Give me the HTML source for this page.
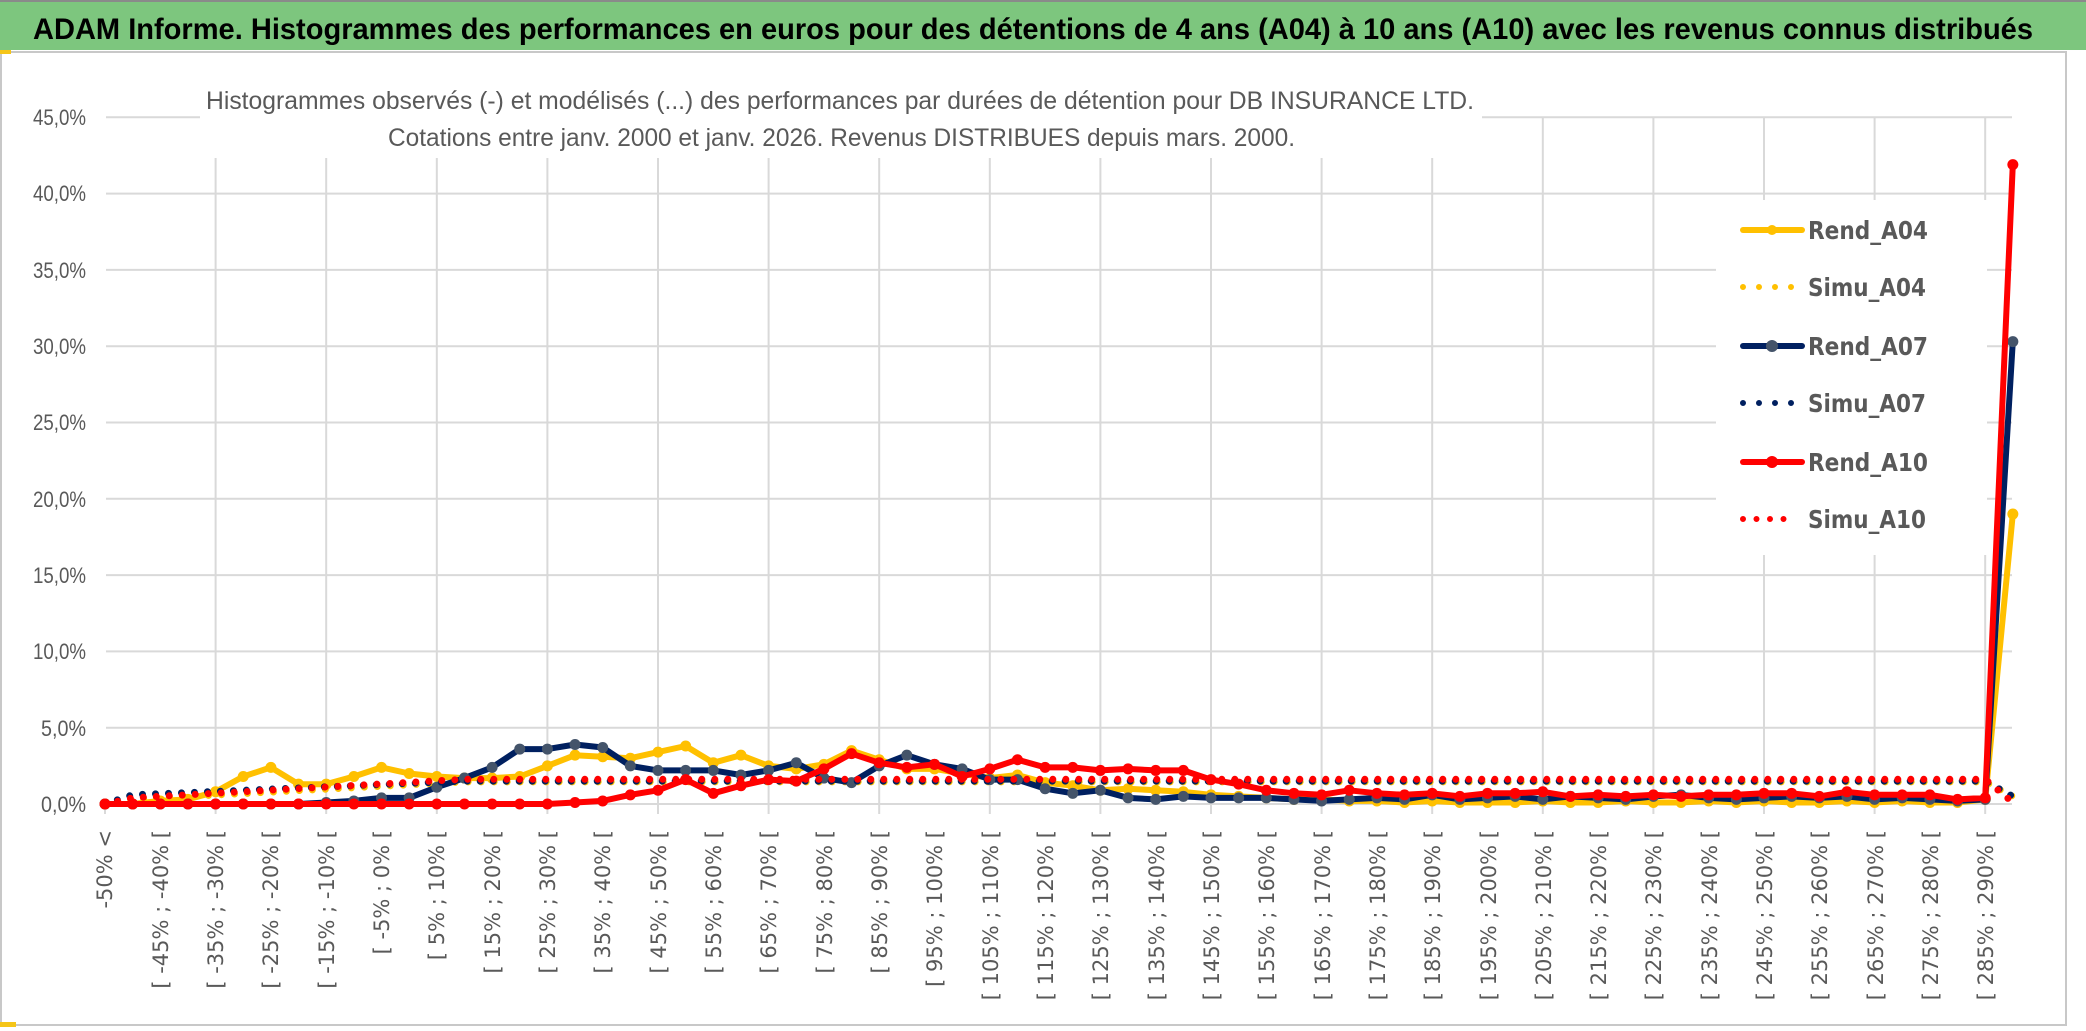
<!DOCTYPE html>
<html><head><meta charset="utf-8"><style>
html,body{margin:0;padding:0;background:#fff;}
svg{display:block;}
</style></head><body>
<svg id="s" width="2086" height="1031" viewBox="0 0 2086 1031" xmlns="http://www.w3.org/2000/svg">
<rect x="0" y="0" width="2086" height="1031" fill="#fff"/>
<rect x="0" y="0" width="2086" height="50" fill="#7DC67E"/>
<line x1="0" y1="1" x2="2086" y2="1" stroke="#8a8a8a" stroke-width="2"/>
<text x="33" y="39" font-family="Liberation Sans, sans-serif" font-weight="bold" font-size="30" fill="#000" textLength="2000" lengthAdjust="spacingAndGlyphs">ADAM Informe. Histogrammes des performances en euros pour des détentions de 4 ans (A04) à 10 ans (A10) avec les revenus connus distribués</text>
<rect x="1" y="52" width="2065" height="973" fill="none" stroke="#C8C8C8" stroke-width="2"/>
<rect x="0" y="50" width="11" height="4" fill="#F5C518"/>
<rect x="0" y="1022" width="16" height="5" fill="#F5C518"/>
<g id="grid" stroke="#D9D9D9" stroke-width="2"></g>
<rect x="200" y="72" width="1282" height="86" fill="#fff"/>
<rect x="1716" y="200" width="271" height="355" fill="#fff"/>
<text x="206" y="109" font-family="Liberation Sans, sans-serif" font-size="25" fill="#595959" textLength="1268" lengthAdjust="spacingAndGlyphs">Histogrammes observés (-) et modélisés (...) des performances par durées de détention pour DB INSURANCE LTD.</text>
<text x="388" y="146" font-family="Liberation Sans, sans-serif" font-size="25" fill="#595959" textLength="907" lengthAdjust="spacingAndGlyphs">Cotations entre janv. 2000 et janv. 2026. Revenus DISTRIBUES depuis mars. 2000.</text>
<g font-family="Liberation Sans, sans-serif" font-size="22" fill="#595959" text-anchor="end">
<text x="86" y="125" textLength="53" lengthAdjust="spacingAndGlyphs">45,0%</text>
<text x="86" y="201" textLength="53" lengthAdjust="spacingAndGlyphs">40,0%</text>
<text x="86" y="278" textLength="53" lengthAdjust="spacingAndGlyphs">35,0%</text>
<text x="86" y="354" textLength="53" lengthAdjust="spacingAndGlyphs">30,0%</text>
<text x="86" y="430" textLength="53" lengthAdjust="spacingAndGlyphs">25,0%</text>
<text x="86" y="507" textLength="53" lengthAdjust="spacingAndGlyphs">20,0%</text>
<text x="86" y="583" textLength="53" lengthAdjust="spacingAndGlyphs">15,0%</text>
<text x="86" y="659" textLength="53" lengthAdjust="spacingAndGlyphs">10,0%</text>
<text x="86" y="736" textLength="45" lengthAdjust="spacingAndGlyphs">5,0%</text>
<text x="86" y="812" textLength="45" lengthAdjust="spacingAndGlyphs">0,0%</text>
</g>
<g font-family="DejaVu Sans, sans-serif" font-size="21" fill="#595959" text-anchor="end">
<text transform="translate(112,830) rotate(-90)">-50% &lt;</text>
<text transform="translate(168,830) rotate(-90)">[ -45% ; -40% [</text>
<text transform="translate(223,830) rotate(-90)">[ -35% ; -30% [</text>
<text transform="translate(278,830) rotate(-90)">[ -25% ; -20% [</text>
<text transform="translate(334,830) rotate(-90)">[ -15% ; -10% [</text>
<text transform="translate(389,830) rotate(-90)">[ -5% ; 0% [</text>
<text transform="translate(444,830) rotate(-90)">[ 5% ; 10% [</text>
<text transform="translate(500,830) rotate(-90)">[ 15% ; 20% [</text>
<text transform="translate(555,830) rotate(-90)">[ 25% ; 30% [</text>
<text transform="translate(610,830) rotate(-90)">[ 35% ; 40% [</text>
<text transform="translate(666,830) rotate(-90)">[ 45% ; 50% [</text>
<text transform="translate(721,830) rotate(-90)">[ 55% ; 60% [</text>
<text transform="translate(776,830) rotate(-90)">[ 65% ; 70% [</text>
<text transform="translate(832,830) rotate(-90)">[ 75% ; 80% [</text>
<text transform="translate(887,830) rotate(-90)">[ 85% ; 90% [</text>
<text transform="translate(942,830) rotate(-90)">[ 95% ; 100% [</text>
<text transform="translate(998,830) rotate(-90)">[ 105% ; 110% [</text>
<text transform="translate(1053,830) rotate(-90)">[ 115% ; 120% [</text>
<text transform="translate(1108,830) rotate(-90)">[ 125% ; 130% [</text>
<text transform="translate(1164,830) rotate(-90)">[ 135% ; 140% [</text>
<text transform="translate(1219,830) rotate(-90)">[ 145% ; 150% [</text>
<text transform="translate(1274,830) rotate(-90)">[ 155% ; 160% [</text>
<text transform="translate(1330,830) rotate(-90)">[ 165% ; 170% [</text>
<text transform="translate(1385,830) rotate(-90)">[ 175% ; 180% [</text>
<text transform="translate(1440,830) rotate(-90)">[ 185% ; 190% [</text>
<text transform="translate(1496,830) rotate(-90)">[ 195% ; 200% [</text>
<text transform="translate(1551,830) rotate(-90)">[ 205% ; 210% [</text>
<text transform="translate(1606,830) rotate(-90)">[ 215% ; 220% [</text>
<text transform="translate(1661,830) rotate(-90)">[ 225% ; 230% [</text>
<text transform="translate(1717,830) rotate(-90)">[ 235% ; 240% [</text>
<text transform="translate(1772,830) rotate(-90)">[ 245% ; 250% [</text>
<text transform="translate(1827,830) rotate(-90)">[ 255% ; 260% [</text>
<text transform="translate(1883,830) rotate(-90)">[ 265% ; 270% [</text>
<text transform="translate(1938,830) rotate(-90)">[ 275% ; 280% [</text>
<text transform="translate(1993,830) rotate(-90)">[ 285% ; 290% [</text>
</g>
<g id="series"></g>
<g font-family="DejaVu Sans, sans-serif" font-weight="bold" font-size="25" fill="#595959">
<line x1="1743" y1="230" x2="1802" y2="230" stroke="#FFC000" stroke-width="6" stroke-linecap="round"/><circle cx="1772" cy="230" r="5" fill="#FFC000"/>
<text x="1808" y="239" textLength="120" lengthAdjust="spacingAndGlyphs">Rend_A04</text>
<line x1="1743" y1="287" x2="1792" y2="287" stroke="#FFC000" stroke-width="6" stroke-linecap="round" stroke-dasharray="0 16"/>
<text x="1808" y="296" textLength="118" lengthAdjust="spacingAndGlyphs">Simu_A04</text>
<line x1="1743" y1="346" x2="1802" y2="346" stroke="#002060" stroke-width="6" stroke-linecap="round"/><circle cx="1772" cy="346" r="6" fill="#44546A"/>
<text x="1808" y="355" textLength="120" lengthAdjust="spacingAndGlyphs">Rend_A07</text>
<line x1="1743" y1="403" x2="1792" y2="403" stroke="#002060" stroke-width="6" stroke-linecap="round" stroke-dasharray="0 16"/>
<text x="1808" y="412" textLength="118" lengthAdjust="spacingAndGlyphs">Simu_A07</text>
<line x1="1743" y1="462" x2="1802" y2="462" stroke="#FF0000" stroke-width="6" stroke-linecap="round"/><circle cx="1772" cy="462" r="6" fill="#FF0000"/>
<text x="1808" y="471" textLength="120" lengthAdjust="spacingAndGlyphs">Rend_A10</text>
<line x1="1743" y1="519" x2="1797" y2="519" stroke="#FF0000" stroke-width="6" stroke-linecap="round" stroke-dasharray="0 13.5"/>
<text x="1808" y="528" textLength="118" lengthAdjust="spacingAndGlyphs">Simu_A10</text>
</g>
</svg>
<script>
(function(){
var NS="http://www.w3.org/2000/svg";
var X=function(i){return 105+27.65*i;}, Y=function(v){return 804-v*15.26;};
var g=document.getElementById('grid');
function ln(p,x1,y1,x2,y2,a){var l=document.createElementNS(NS,'line');l.setAttribute('x1',x1);l.setAttribute('y1',y1);l.setAttribute('x2',x2);l.setAttribute('y2',y2);if(a)for(var k in a)l.setAttribute(k,a[k]);p.appendChild(l);return l;}
for(var k=0;k<=9;k++){var y=Y(k*5);ln(g,106,y,2012,y);}
for(var i=4;i<=68;i+=4){ln(g,X(i),Y(45),X(i),814);}
ln(g,X(0),804,X(0),814);
var A04=[0,0,0.2,0.3,0.8,1.8,2.4,1.3,1.3,1.8,2.4,2.0,1.8,1.7,1.7,1.8,2.5,3.2,3.1,3.0,3.4,3.8,
2.7,3.2,2.5,2.3,2.6,3.5,2.9,2.3,2.3,2.0,1.7,1.9,1.4,1.2,0.9,1.0,0.9,0.8,0.6,0.5,0.4,0.3,0.3,0.2,
0.2,0.1,0.2,0.1,0.1,0.1,0.2,0.1,0.1,0.2,0.1,0.1,0.2,0.1,0.2,0.1,0.1,0.2,0.1,0.2,0.1,0.1,0.3,19.0];
var A07=[0,0,0,0,0,0,0,0,0.1,0.2,0.4,0.4,1.1,1.7,2.4,3.6,3.6,3.9,3.7,2.5,
2.2,2.2,2.2,1.9,2.2,2.7,1.7,1.4,2.5,3.2,2.6,2.3,1.6,1.6,1.0,0.7,0.9,0.4,0.3,0.5,0.4,0.4,0.4,0.3,0.2,0.3,
0.4,0.3,0.6,0.3,0.4,0.5,0.3,0.5,0.4,0.3,0.5,0.6,0.4,0.3,0.4,0.5,0.4,0.5,0.3,0.4,0.3,0.2,0.3,30.3];
var A10=[0,0,0,0,0,0,0,0,0,0,0,0,0,0,0,0,0,0.1,0.2,0.6,
0.9,1.6,0.7,1.2,1.6,1.5,2.3,3.3,2.7,2.4,2.6,1.8,2.3,2.9,2.4,2.4,2.2,2.3,2.2,2.2,1.6,1.3,0.9,0.7,0.6,0.9,
0.7,0.6,0.7,0.5,0.7,0.7,0.8,0.5,0.6,0.5,0.6,0.5,0.6,0.6,0.7,0.7,0.5,0.8,0.6,0.6,0.6,0.3,0.4,41.9];
function simu(start,top,end){var a=[0];for(var i=1;i<=13;i++)a.push(start+(top-start)*(i-1)/12);for(var i=14;i<69;i++)a.push(top);a.push(end);return a;}
var S04=simu(0.3,1.45,0.5),S07=simu(0.6,1.5,0.5),S10=simu(0.4,1.62,0.1);
var s=document.getElementById('series');
function path(d,col,dot){var p=document.createElementNS(NS,'path');var str='';for(var i=0;i<d.length;i++)str+=(i?'L':'M')+X(i).toFixed(1)+' '+Y(d[i]).toFixed(1);
p.setAttribute('d',str);p.setAttribute('fill','none');p.setAttribute('stroke',col);p.setAttribute('stroke-width',dot?'7':'6');p.setAttribute('stroke-linejoin','round');p.setAttribute('stroke-linecap','round');
if(dot)p.setAttribute('stroke-dasharray','0 13');s.appendChild(p);}
function marks(d,col){for(var i=0;i<d.length;i++){var c=document.createElementNS(NS,'circle');c.setAttribute('cx',X(i));c.setAttribute('cy',Y(d[i]));c.setAttribute('r','5.5');c.setAttribute('fill',col);s.appendChild(c);}}
path(A04,'#FFC000');marks(A04,'#FFC000');
path(S04,'#FFC000',1);
path(A07,'#002060');marks(A07,'#44546A');
path(S07,'#002060',1);
path(A10,'#FF0000');marks(A10,'#FF0000');
path(S10,'#FF0000',1);
})();
</script>
</body></html>
